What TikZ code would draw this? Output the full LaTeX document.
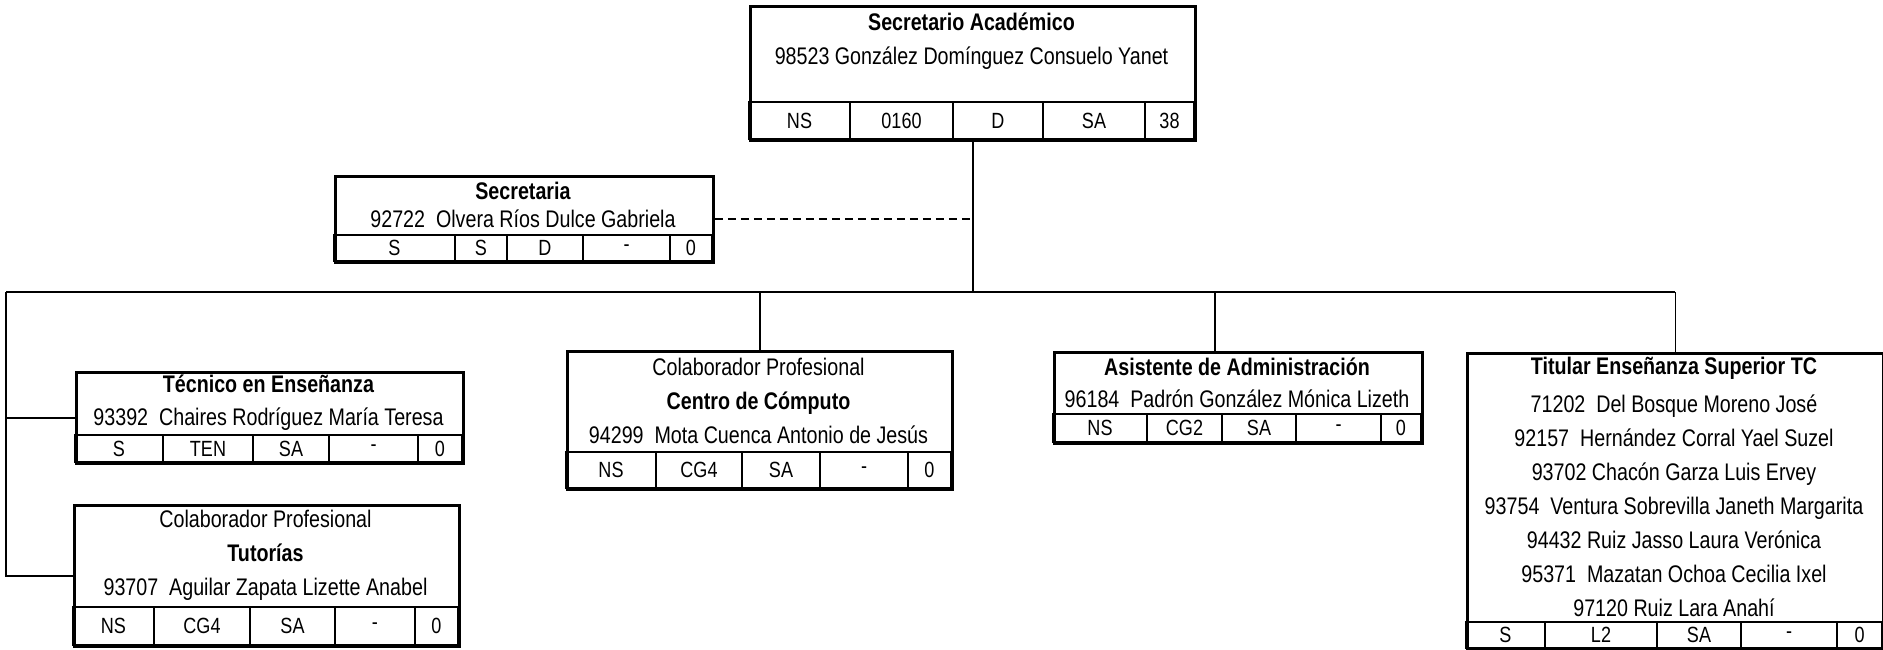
\documentclass[tikz,border=0pt]{standalone}
\usepackage{fontspec}
\setmainfont{Liberation Sans}[FakeStretch=0.82]

% one row of cells under a box
\newcommand{\cellrow}[4]{%
  \node[inner sep=0pt, outer sep=0pt, minimum size=0pt, anchor=north west] (#1-0) at #2 {};
  \foreach \cw/\ct [count=\ci, remember=\ci as \cj (initially 0)] in {#4}{
    \node[cell, minimum width=\cw pt, minimum height=#3pt] (#1-\ci) at (#1-\cj.north east) {\ct};
  }%
}

\begin{document}
\begin{tikzpicture}[x=1pt, y=-1pt, every node/.style={font=\fontsize{24}{34}\selectfont}]
\tikzset{
  orgbox/.style={draw, line width=2.8pt, inner sep=0pt, anchor=north west},
  cell/.style={draw, line width=2.4pt, inner sep=0pt, outer sep=0pt, anchor=north west, font=\fontsize{22}{24}\selectfont},
  boxtext/.style={align=center, inner sep=0pt},
  bus/.style={line width=1.6pt}
}
\useasboundingbox (0,0) rectangle (1883,649);

\node[orgbox, minimum width=445pt, minimum height=134pt] (sa) at (749,5) {};
\node[boxtext] (sa-t) at (971.5,41) {\textbf{Secretario Académico}\\98523 González Domínguez Consuelo Yanet};
\cellrow{sa}{(749,102)}{37}{101/NS,103/0160,90/D,102/SA,49/38}

\node[orgbox, minimum width=378pt, minimum height=86pt] (sec) at (334,175) {};
\node[boxtext] (sec-t) at (523,205) {\textbf{Secretaria}\\[-6pt]92722\ \ Olvera Ríos Dulce Gabriela};
\cellrow{sec}{(334,235)}{26}{121/S,52/S,76/D,87/-,42/0}

\node[orgbox, minimum width=387pt, minimum height=91pt] (ten) at (75,371) {};
\node[boxtext] (ten-t) at (268.5,403) {\textbf{Técnico en Enseñanza}\\[-1pt]93392\ \ Chaires Rodríguez María Teresa};
\cellrow{ten}{(75,435)}{27}{88/S,90/TEN,76/SA,89/-,44/0}

\node[orgbox, minimum width=385pt, minimum height=141pt] (tut) at (73,504) {};
\node[boxtext] (tut-t) at (265.5,555.5) {Colaborador Profesional\\\textbf{Tutorías}\\93707\ \ Aguilar Zapata Lizette Anabel};
\cellrow{tut}{(73,607)}{38}{81/NS,96/CG4,85/SA,80/-,43/0}

\node[orgbox, minimum width=385pt, minimum height=138pt] (cc) at (566,350) {};
\node[boxtext] (cc-t) at (758.5,401) {Colaborador Profesional\\\textbf{Centro de Cómputo}\\94299\ \ Mota Cuenca Antonio de Jesús};
\cellrow{cc}{(566,452)}{36}{90/NS,86/CG4,78/SA,88/-,43/0}

\node[orgbox, minimum width=368pt, minimum height=91pt] (aa) at (1053,351) {};
\node[boxtext] (aa-t) at (1237,382.5) {\textbf{Asistente de Administración}\\[-2pt]96184\ \ Padrón González Mónica Lizeth};
\cellrow{aa}{(1053,414)}{28}{94/NS,75/CG2,74/SA,85/-,40/0}

\node[orgbox, minimum width=416pt, minimum height=296pt] (tit) at (1466,352) {};
\node[boxtext] (tit-t) at (1674,487) {\textbf{Titular Enseñanza Superior TC}\\[4pt]71202\ \ Del Bosque Moreno José\\92157\ \ Hernández Corral Yael Suzel\\93702 Chacón Garza Luis Ervey\\93754\ \ Ventura Sobrevilla Janeth Margarita\\94432 Ruiz Jasso Laura Verónica\\95371\ \ Mazatan Ochoa Cecilia Ixel\\97120 Ruiz Lara Anahí};
\cellrow{tit}{(1466,622)}{26}{79/S,112/L2,84/SA,96/-,45/0}

% connectors
\coordinate (busL) at (6,292);
\path (aa.north west) ++(162,0) coordinate (aa-top);
\draw[bus] (sa.south) -- (sa.south |- busL);
\draw[bus, line width=2pt, dash pattern=on 8pt off 5pt] (sec.east) -- (sa.south |- sec.east);
\draw[bus] (busL) -- (tit.north |- busL);
\draw[bus] (busL) |- (ten.west);
\draw[bus] (busL) |- (tut.west);
\draw[bus] (cc.north |- busL) -- (cc.north);
\draw[bus] (aa-top |- busL) -- (aa-top);
\draw[bus] (tit.north |- busL) -- (tit.north);
\end{tikzpicture}
\end{document}
